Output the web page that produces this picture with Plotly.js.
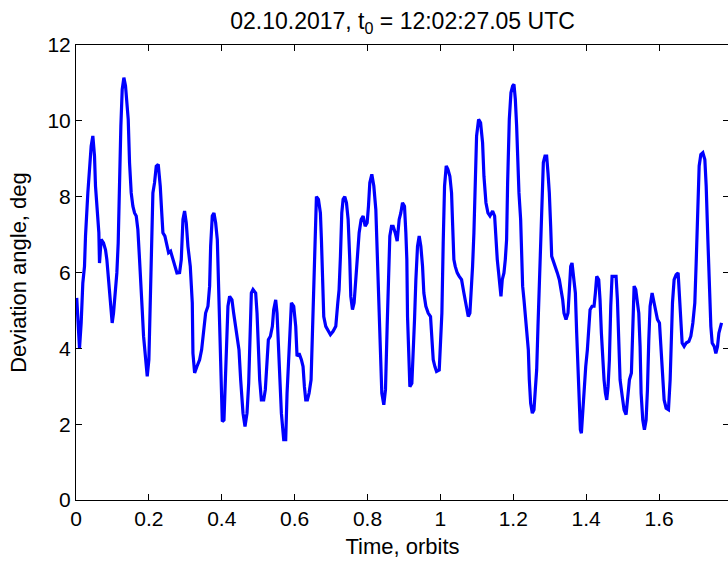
<!DOCTYPE html>
<html>
<head>
<meta charset="utf-8">
<script src="https://cdn.plot.ly/plotly-3.0.1.min.js"></script>
<style>html,body{margin:0;padding:0;overflow:hidden;background:#fff;}#chart{width:732px;height:562px;}</style>
</head>
<body>
<div id="chart"></div>
<script>
// Time, orbits
const time1 = [0.002,0.0096,0.0142,0.0187,0.0233,0.0261,0.0325,0.037,0.0416,0.0462,0.0508,0.0535,0.0572,0.0627,0.0645,0.0691,0.0755,0.081,0.0847,0.0902,0.0938,0.0993,0.103,0.1076,0.1121,0.1158,0.1195,0.1231,0.1268,0.1314,0.1359,0.1396,0.1433,0.1469,0.1515,0.1561,0.1607,0.1653,0.1698,0.1744,0.1772,0.1817,0.1854,0.1909,0.1955,0.2,0.2037,0.2074,0.211,0.2156,0.2202,0.2257,0.2312,0.2348,0.2385,0.244,0.2495,0.2541,0.2596,0.266,0.2724,0.277];
const angle1 = [5.33,4.0,4.67,5.72,6.16,6.96,8.1,8.72,9.33,9.6,9.07,8.28,7.75,7.05,6.25,6.87,6.78,6.6,6.34,5.72,5.1,4.67,4.93,5.37,5.99,6.78,8.54,9.86,10.83,11.14,10.92,10.57,10.04,8.9,8.1,7.75,7.57,7.49,7.13,6.34,5.64,5.02,4.32,3.7,3.26,3.7,5.1,6.69,8.1,8.37,8.8,8.85,8.28,7.66,7.05,6.96,6.69,6.52,6.56,6.34,6.16,5.99];
const time2 = [0.2843,0.2889,0.2935,0.298,0.3026,0.3072,0.3136,0.3191,0.3209,0.3255,0.3319,0.3392,0.3447,0.3502,0.3557,0.3621,0.3667,0.3695,0.374,0.3786,0.3832,0.3878,0.3924,0.396,0.3997,0.4015,0.4061,0.4088,0.4125,0.417,0.4216,0.428,0.4326,0.44,0.4473,0.4519,0.4583,0.4638,0.4693,0.4739,0.4766,0.4812,0.4858,0.4931,0.4968,0.5004,0.5041,0.5087,0.5151,0.5196,0.5242,0.5279,0.5334,0.5389,0.5425,0.548,0.5517,0.5554,0.559,0.5636,0.57,0.5755,0.5792,0.5828];
const angle2 = [6.0,6.34,7.4,7.62,7.31,6.69,6.16,5.2,3.87,3.35,3.52,3.7,3.96,4.49,4.93,5.11,5.64,6.69,7.49,7.57,7.31,6.87,5.46,3.79,2.82,2.07,2.11,2.99,4.23,5.11,5.37,5.28,4.93,4.49,3.96,3.17,2.29,1.94,2.29,3.08,4.14,5.46,5.55,5.46,4.93,4.14,3.17,2.64,2.64,2.91,3.7,4.23,4.32,4.58,5.02,5.28,4.93,4.05,3.08,2.29,1.59,1.59,2.82,3.7];
const time3 = [0.5911,0.5975,0.603,0.6066,0.6121,0.6185,0.6231,0.6268,0.6305,0.635,0.6396,0.6451,0.6488,0.6524,0.6561,0.6598,0.6653,0.6707,0.6735,0.6762,0.6799,0.6854,0.6918,0.6982,0.7055,0.7129,0.7184,0.722,0.7257,0.7294,0.733,0.7376,0.7422,0.7468,0.7513,0.7541,0.7587,0.7632,0.7678,0.7724,0.777,0.7825,0.788,0.7935,0.799,0.8026,0.8063,0.8118,0.8173,0.8228,0.8264,0.8292,0.8319,0.8356,0.8392,0.8447,0.8493,0.8539,0.8576,0.8612,0.8658,0.8704,0.8759,0.8814,0.8869];
const angle3 = [5.2,5.11,4.58,3.79,3.87,3.7,3.52,2.99,2.64,2.64,2.82,3.17,4.4,5.99,7.4,8.0,7.93,7.57,6.87,5.64,4.84,4.58,4.45,4.36,4.45,4.58,5.2,5.55,6.43,7.57,7.93,8.0,7.84,7.4,6.34,5.37,5.02,5.2,5.81,6.34,7.05,7.4,7.49,7.22,7.31,7.75,8.37,8.59,8.28,7.66,6.6,5.81,4.76,3.7,2.82,2.51,2.91,4.58,5.99,6.96,7.22,7.22,7.05,6.83,7.4];
const time4 = [0.8914,0.896,0.9015,0.9052,0.9079,0.9098,0.9134,0.9162,0.9217,0.9253,0.929,0.9327,0.9372,0.9418,0.9464,0.951,0.9546,0.9601,0.9665,0.9729,0.9766,0.9803,0.9849,0.9894,0.9968,1.0004,1.0041,1.0077,1.0114,1.016,1.0206,1.026,1.0306,1.0334,1.037,1.0407,1.0462,1.0517,1.0581,1.0645,1.07,1.0764,1.081,1.0847,1.0883,1.092,1.0957,1.0993,1.1048,1.1103,1.1158,1.1195,1.125,1.1305,1.136,1.1433,1.1488,1.1524,1.1561,1.1598,1.1634,1.1662,1.1698,1.1744,1.1781,1.1817,1.1845,1.1891];
const angle4 = [7.57,7.84,7.75,7.05,6.34,4.84,3.7,2.99,3.08,3.79,4.76,5.81,6.69,6.96,6.69,6.16,5.46,5.11,4.93,4.84,4.23,3.7,3.52,3.39,3.43,4.05,4.93,6.78,8.28,8.81,8.72,8.54,8.1,7.31,6.34,6.16,5.99,5.9,5.81,5.46,5.11,4.84,4.93,5.46,6.16,7.05,8.54,9.6,10.04,9.95,9.42,8.54,7.84,7.57,7.49,7.62,7.49,6.87,6.34,5.99,5.64,5.37,5.81,5.99,6.34,6.87,8.37,10.04];
const time5 = [1.1936,1.1982,1.2019,1.2056,1.2092,1.212,1.2156,1.2202,1.223,1.2257,1.2294,1.233,1.2367,1.2413,1.244,1.2477,1.2523,1.2568,1.2605,1.2642,1.2678,1.2706,1.2733,1.277,1.2797,1.2825,1.287,1.2916,1.2953,1.2989,1.3026,1.3054,1.3099,1.3154,1.3209,1.3264,1.3319,1.3356,1.3392,1.3447,1.3502,1.3539,1.3576,1.3612,1.3649,1.3704,1.374,1.3777,1.3805,1.3841,1.3869,1.3905,1.3942,1.3988,1.4033,1.407,1.4107,1.4162,1.4217,1.4253,1.429,1.4345,1.4381,1.4418,1.4455,1.4491,1.4528,1.4565,1.4601,1.4638,1.4675,1.4711,1.4766,1.4821,1.4858,1.4894,1.4931];
const angle5 = [10.74,10.92,10.96,10.57,9.86,8.98,8.1,7.4,6.6,5.64,5.28,4.84,4.32,3.96,3.17,2.55,2.29,2.38,2.91,3.43,4.58,5.46,6.69,7.57,8.37,8.9,9.07,9.07,8.63,8.1,7.22,6.43,6.3,6.16,5.99,5.81,5.55,5.28,4.93,4.76,4.93,5.46,6.16,6.25,5.99,5.46,4.4,3.43,2.64,1.85,1.76,2.29,2.99,3.52,3.96,4.67,5.02,5.11,5.11,5.46,5.9,5.81,5.28,4.4,3.7,3.17,2.82,2.64,2.99,3.7,5.11,5.9,5.9,5.9,5.28,4.14,3.17];
const time6 = [1.4995,1.5041,1.5096,1.5142,1.5187,1.5242,1.5279,1.5316,1.5361,1.5407,1.5444,1.548,1.5508,1.5554,1.5599,1.5645,1.5682,1.5719,1.5755,1.581,1.5847,1.5902,1.5957,1.6012,1.6048,1.6085,1.614,1.6195,1.6259,1.6305,1.6332,1.6369,1.6414,1.6469,1.6524,1.6561,1.6598,1.6634,1.6689,1.6744,1.6818,1.6873,1.6928,1.6982,1.7019,1.7056,1.7101,1.7147,1.7202,1.7257,1.7294,1.734,1.7376,1.7422,1.7459,1.7514,1.7559,1.7605,1.7642,1.7678,1.7715];
const angle6 = [2.7,2.38,2.25,2.82,3.17,3.35,4.58,5.64,5.55,5.2,4.93,4.05,2.82,2.11,1.85,2.11,2.91,4.23,5.11,5.46,5.28,4.93,4.76,4.67,4.05,3.35,2.64,2.42,2.38,3.17,4.05,5.2,5.81,5.94,5.99,5.46,4.67,4.14,4.05,4.14,4.18,4.32,4.67,5.2,6.25,7.66,8.81,9.11,9.16,8.98,8.28,6.87,5.64,4.58,4.14,4.05,3.87,4.05,4.4,4.58,4.67];

const titleText = '02.10.2017, t<sub>0</sub> = 12:02:27.05 UTC';
const xTitle = 'Time, orbits';
const yTitle = 'Deviation angle, deg';

const time = [].concat(time1, time2, time3, time4, time5, time6);
const angle = [].concat(angle1, angle2, angle3, angle4, angle5, angle6);

const fam = 'Liberation Sans, Arial, sans-serif';
const tickFont = {family: fam, size: 21, color: '#000'};
const labelFont = {family: fam, size: 22, color: '#000'};

const trace = {
  x: time, y: angle, type: 'scatter', mode: 'lines',
  line: {color: '#0000ff', width: 3.2}, hoverinfo: 'none'
};

const layout = {
  width: 732, height: 562,
  margin: {l: 76, r: 3, t: 45, b: 62},
  paper_bgcolor: '#fff', plot_bgcolor: '#fff',
  showlegend: false,
  font: tickFont,
  title: {text: titleText, font: {family: fam, size: 23, color: '#000'}, xref: 'paper', x: 0.5, xanchor: 'center', yref: 'container', y: 0.962, yanchor: 'middle'},
  xaxis: {
    range: [0, 1.792], tick0: 0, dtick: 0.2, ticks: 'inside', ticklen: 6, tickwidth: 1, tickcolor: '#000',
    showline: true, linecolor: '#000', linewidth: 1, mirror: 'ticks', showgrid: false, zeroline: false,
    tickfont: tickFont, title: {text: xTitle, font: labelFont, standoff: 9}
  },
  yaxis: {
    range: [0, 12], tick0: 0, dtick: 2, ticks: 'inside', ticklen: 6, tickwidth: 1, tickcolor: '#000',
    showline: true, linecolor: '#000', linewidth: 1, mirror: 'ticks', showgrid: false, zeroline: false,
    tickfont: tickFont, title: {text: yTitle, font: labelFont, standoff: 14}
  }
};

Plotly.newPlot('chart', [trace], layout, {displayModeBar: false, staticPlot: true});
</script>
</body>
</html>
